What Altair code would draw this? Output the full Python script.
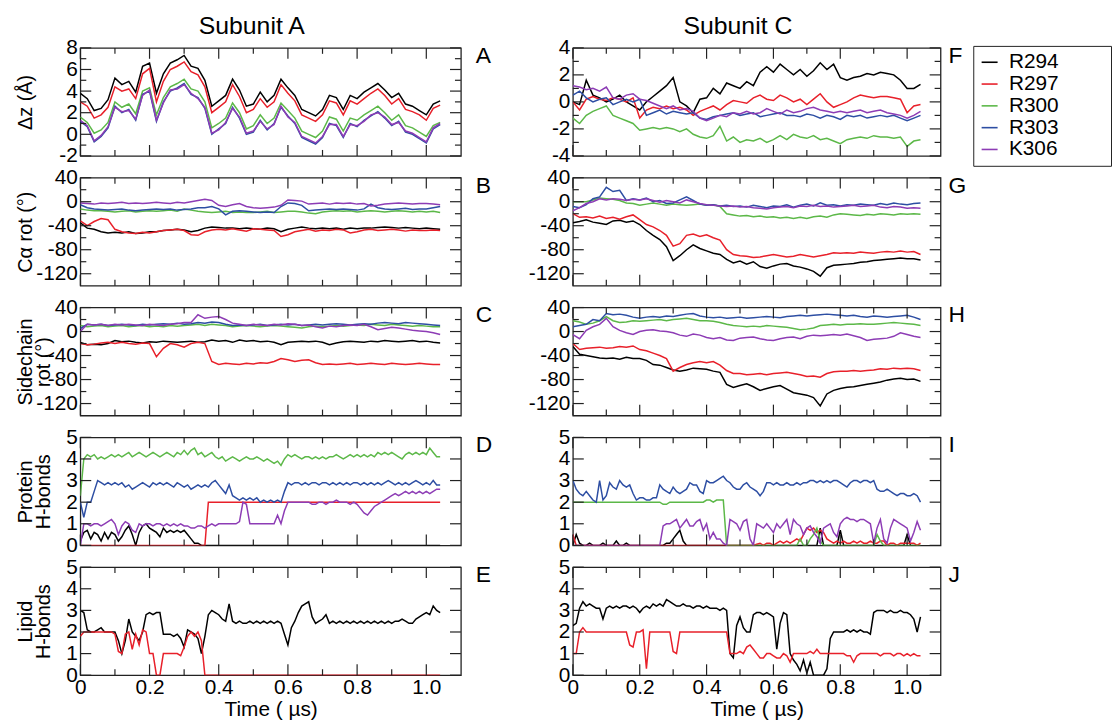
import altair as alt
import pandas as pd

FONT = "Liberation Sans"
FRAME = "#222222"
SERIES = ["R294", "R297", "R300", "R303", "K306"]
COLORS = ["#000000", "#e8202a", "#5cb848", "#2d4ea3", "#8d3cb5"]

# sampling grids (microseconds)
TIME_S = [0.0, 0.02, 0.04, 0.06, 0.08, 0.1, 0.12, 0.14, 0.16, 0.18,
          0.2, 0.22, 0.24, 0.26, 0.28, 0.3, 0.32, 0.34, 0.36, 0.38,
          0.4, 0.42, 0.44, 0.46, 0.48, 0.5, 0.52, 0.54, 0.56, 0.58,
          0.6, 0.62, 0.64, 0.66, 0.68, 0.7, 0.72, 0.74, 0.76, 0.78,
          0.8, 0.82, 0.84, 0.86, 0.88, 0.9, 0.92, 0.94, 0.96, 0.98,
          1.0, 1.02, 1.04]
TIME_H = [0.0, 0.01, 0.02, 0.03, 0.04, 0.05, 0.06, 0.07, 0.08, 0.09,
          0.1, 0.11, 0.12, 0.13, 0.14, 0.15, 0.16, 0.17, 0.18, 0.19,
          0.2, 0.21, 0.22, 0.23, 0.24, 0.25, 0.26, 0.27, 0.28, 0.29,
          0.3, 0.31, 0.32, 0.33, 0.34, 0.35, 0.36, 0.37, 0.38, 0.39,
          0.4, 0.41, 0.42, 0.43, 0.44, 0.45, 0.46, 0.47, 0.48, 0.49,
          0.5, 0.51, 0.52, 0.53, 0.54, 0.55, 0.56, 0.57, 0.58, 0.59,
          0.6, 0.61, 0.62, 0.63, 0.64, 0.65, 0.66, 0.67, 0.68, 0.69,
          0.7, 0.71, 0.72, 0.73, 0.74, 0.75, 0.76, 0.77, 0.78, 0.79,
          0.8, 0.81, 0.82, 0.83, 0.84, 0.85, 0.86, 0.87, 0.88, 0.89,
          0.9, 0.91, 0.92, 0.93, 0.94, 0.95, 0.96, 0.97, 0.98, 0.99,
          1.0, 1.01, 1.02, 1.03, 1.04]

# ---- Panel A: dz, subunit A
A_R294 = [3.8, 3.3, 2.2, 2.4, 3.2, 5.2, 4.6, 4.9, 3.9, 6.3, 6.6, 3.8, 5.6, 6.6, 6.9, 7.3, 6.3, 6.1, 5.0, 2.6, 3.1, 3.6, 5.1, 4.1, 2.6, 2.8, 3.9, 3.0, 3.6, 5.1, 4.3, 3.6, 2.3, 2.0, 1.7, 2.3, 3.6, 3.4, 2.3, 3.6, 3.3, 3.9, 4.3, 4.7, 4.1, 3.4, 3.8, 2.8, 2.6, 2.2, 1.8, 2.8, 3.1]
A_R297 = [3.0, 2.6, 1.5, 1.8, 2.5, 4.4, 4.0, 4.2, 3.3, 5.6, 6.1, 3.0, 4.9, 6.0, 6.3, 6.7, 5.8, 5.5, 4.4, 2.0, 2.5, 3.0, 4.6, 3.5, 2.0, 2.3, 3.3, 2.5, 3.0, 4.6, 3.8, 3.1, 1.8, 1.5, 1.2, 1.8, 3.1, 2.9, 1.8, 3.1, 2.8, 3.3, 3.8, 4.2, 3.6, 2.8, 3.3, 2.3, 2.1, 1.8, 1.3, 2.4, 2.7]
A_R300 = [1.6, 1.1, 0.1, 0.4, 1.1, 3.0, 2.5, 2.8, 1.9, 4.0, 4.3, 1.8, 3.4, 4.4, 4.7, 5.1, 4.2, 4.0, 3.0, 0.6, 1.0, 1.5, 2.9, 2.0, 0.5, 0.8, 1.8, 1.0, 1.5, 2.9, 2.2, 1.5, 0.3, 0.0, -0.3, 0.3, 1.6, 1.4, 0.3, 1.5, 1.3, 1.8, 2.2, 2.6, 2.0, 1.3, 1.8, 0.8, 0.6, 0.2, -0.2, 0.8, 1.1]
A_R303 = [1.2, 0.7, -0.7, -0.2, 0.6, 2.6, 2.0, 2.3, 1.3, 3.7, 4.0, 1.2, 3.0, 4.0, 4.3, 4.7, 3.7, 3.4, 2.4, 0.0, 0.5, 1.0, 2.5, 1.5, 0.0, 0.2, 1.3, 0.4, 1.0, 2.5, 1.7, 1.0, -0.3, -0.6, -0.9, -0.3, 1.0, 0.8, -0.3, 1.0, 0.7, 1.3, 1.7, 2.1, 1.5, 0.8, 1.2, 0.2, 0.0, -0.4, -0.8, 0.5, 0.9]
A_K306 = [1.3, 0.8, -0.6, -0.1, 0.7, 2.5, 2.1, 2.2, 1.4, 3.6, 4.1, 1.3, 2.9, 4.1, 4.2, 4.6, 3.8, 3.3, 2.5, 0.1, 0.4, 1.1, 2.4, 1.6, 0.1, 0.3, 1.2, 0.5, 0.9, 2.6, 1.6, 1.1, -0.2, -0.5, -0.8, -0.2, 0.9, 0.9, -0.2, 0.9, 0.8, 1.2, 1.8, 2.0, 1.6, 0.9, 1.1, 0.3, 0.1, -0.3, -0.7, 0.6, 1.0]

# ---- Panel F: dz, subunit C
F_R294 = [0.0, -0.2, 1.6, 0.5, 0.3, 0.0, 0.2, 0.5, 0.0, -0.3, -0.6, 0.0, 0.4, 0.8, 1.2, 1.8, 0.0, -0.3, -0.8, 0.2, 0.3, 1.0, 0.6, 1.4, 1.2, 1.0, 1.5, 1.2, 2.2, 2.6, 2.2, 2.8, 2.4, 2.0, 2.4, 1.9, 2.3, 2.9, 2.4, 2.8, 1.8, 1.6, 1.8, 1.9, 2.1, 2.0, 2.2, 2.1, 2.0, 1.6, 1.0, 1.0, 1.3]
F_R297 = [0.0, -0.6, 0.2, 0.4, 0.2, 0.1, 0.3, 0.2, 0.0, 0.3, -1.2, -0.6, -0.4, -0.5, -0.3, -0.5, -0.4, -0.6, -1.0, -0.7, -0.5, -0.3, -0.6, -0.2, 0.1, 0.0, -0.1, 0.3, 0.5, 0.2, 0.1, 0.5, 0.3, 0.0, 0.2, -0.2, 0.2, 0.6, 0.0, -0.4, -0.2, 0.0, 0.3, 0.5, 0.4, 0.3, 0.4, 0.4, 0.3, 0.2, -0.8, -0.3, -0.2]
F_R300 = [-1.2, -1.6, -1.0, -0.7, -0.5, -0.3, -1.0, -1.2, -1.4, -1.6, -2.1, -2.0, -1.9, -2.0, -1.9, -2.0, -2.2, -2.0, -2.4, -2.6, -2.7, -2.5, -1.8, -2.9, -2.6, -3.0, -2.8, -2.9, -2.7, -3.0, -2.8, -2.5, -2.8, -2.4, -2.6, -2.7, -2.5, -2.8, -2.7, -2.9, -3.1, -2.8, -2.7, -2.6, -2.7, -2.5, -2.6, -2.6, -2.7, -2.6, -3.3, -2.9, -2.8]
F_R303 = [0.5, 0.8, 0.3, 0.0, 0.2, 0.3, -0.2, 0.0, 0.2, 0.0, 0.2, -1.0, -0.8, -0.6, -0.9, -0.7, -0.8, -0.9, -0.8, -1.2, -1.3, -1.1, -1.0, -0.9, -0.8, -1.0, -0.9, -0.8, -1.1, -1.0, -0.9, -0.8, -1.0, -1.0, -1.1, -0.9, -1.0, -1.2, -1.0, -1.1, -1.3, -1.0, -1.1, -1.0, -1.2, -1.1, -1.0, -1.1, -1.0, -1.2, -1.4, -1.2, -1.0]
F_K306 = [1.2, 1.1, 0.9, 1.0, 0.8, 1.1, 0.3, 0.2, 0.5, 0.6, 0.2, 0.1, -0.1, -0.3, -0.5, -0.3, -0.6, -0.5, -0.7, -1.2, -1.4, -1.2, -1.0, -1.1, -0.8, -0.9, -0.7, -0.9, -0.8, -0.5, -0.7, -0.9, -0.6, -0.8, -0.7, -0.5, -0.4, -0.6, -0.7, -0.8, -0.7, -0.8, -0.7, -0.6, -0.8, -0.7, -0.6, -0.8, -0.9, -1.0, -1.2, -1.0, -0.7]

# ---- Panel B: C-alpha rotation, subunit A
B_R294 = [-35, -44, -46, -50, -52, -51, -52, -50, -53, -52, -50, -50, -48, -47, -46, -47, -50, -48, -44, -42, -43, -44, -44, -45, -44, -45, -46, -44, -45, -50, -46, -44, -42, -44, -45, -44, -45, -44, -46, -44, -45, -44, -44, -43, -42, -43, -44, -43, -44, -45, -44, -45, -46]
B_R297 = [-32, -40, -33, -28, -30, -46, -50, -52, -53, -51, -52, -50, -48, -47, -46, -48, -55, -56, -50, -47, -46, -47, -45, -47, -49, -45, -46, -47, -48, -58, -55, -50, -48, -46, -49, -47, -48, -46, -47, -52, -50, -47, -46, -48, -47, -46, -47, -49, -47, -48, -48, -47, -48]
B_R300 = [-12, -14, -15, -15, -16, -17, -16, -15, -17, -16, -15, -16, -15, -14, -16, -12, -14, -16, -17, -18, -17, -16, -18, -17, -18, -18, -17, -16, -18, -17, -16, -16, -17, -19, -20, -17, -16, -15, -16, -15, -17, -16, -15, -16, -17, -16, -15, -16, -17, -16, -17, -16, -18]
B_R303 = [-5, -10, -12, -13, -14, -13, -12, -14, -15, -14, -13, -12, -13, -12, -14, -13, -12, -10, -10, -8, -12, -22, -16, -15, -16, -17, -18, -17, -18, -8, -2, -3, -6, -15, -14, -13, -12, -13, -12, -13, -14, -12, -4, -10, -12, -13, -12, -11, -13, -12, -12, -10, -8]
B_K306 = [-2, -3, -4, -2, -3, -2, -1, -3, -2, -3, -2, -1, -2, -3, -1, -2, 0, 2, 4, 2, -6, -8, -5, -3, -8, -10, -11, -10, -9, -6, 3, 2, 1, -4, -3, -2, -4, -2, -3, -2, -4, -3, -7, -6, -4, -3, -2, -3, -4, -3, -3, -4, -5]

# ---- Panel G: C-alpha rotation, subunit C
G_R294 = [-35, -33, -30, -34, -36, -38, -32, -31, -34, -32, -38, -48, -56, -63, -75, -98, -90, -80, -72, -78, -82, -86, -88, -96, -102, -99, -104, -100, -108, -111, -107, -104, -103, -107, -109, -112, -116, -124, -110, -106, -105, -104, -103, -101, -100, -98, -97, -96, -95, -94, -95, -95, -97]
G_R297 = [-20, -26, -25, -27, -24, -28, -26, -29, -25, -22, -30, -38, -42, -48, -56, -74, -70, -56, -54, -58, -55, -60, -64, -80, -88, -90, -91, -93, -92, -90, -88, -90, -92, -91, -88, -90, -92, -90, -88, -85, -86, -85, -86, -84, -85, -86, -84, -83, -84, -82, -84, -83, -88]
G_R300 = [0, 0, 0, 3, 6, 5, 4, 2, -2, -3, -6, -4, -2, -4, -6, -4, -5, -6, -5, -4, -6, -5, -8, -20, -22, -24, -23, -25, -24, -26, -25, -27, -26, -28, -26, -28, -25, -24, -26, -22, -20, -21, -22, -23, -21, -22, -20, -21, -22, -20, -21, -20, -21]
G_R303 = [-8, -10, -5, 5, 8, 24, 17, 19, 2, 5, 3, 6, 0, 2, -3, -2, 3, 8, 2, -4, -6, -5, -7, -6, -8, -7, -9, -6, -8, -10, -7, -8, -5, -9, -6, -4, -7, -2, -6, -5, -7, -5, -6, -4, -5, -6, -3, -5, -2, -4, -5, -3, -2]
G_K306 = [-15, -10, -3, 0, 5, 3, 5, 4, 2, 4, 3, 5, 2, -1, 2, 0, -2, 3, 0, -3, -5, -6, -7, -8, -7, -9, -8, -10, -11, -12, -10, -9, -8, -10, -7, -8, -6, -8, -7, -9, -8, -7, -6, -8, -7, -6, -9, -10, -8, -9, -11, -10, -11]

# ---- Panel C: sidechain rotation, subunit A
C_R294 = [-18, -22, -21, -22, -20, -15, -17, -16, -18, -19, -17, -18, -16, -17, -18, -17, -16, -18, -17, -14, -16, -15, -18, -14, -16, -15, -17, -16, -18, -22, -18, -17, -16, -17, -16, -18, -22, -19, -17, -16, -17, -18, -16, -17, -15, -16, -17, -16, -15, -17, -16, -18, -19]
C_R297 = [-20, -22, -21, -19, -18, -20, -18, -20, -21, -19, -20, -42, -28, -20, -22, -26, -20, -18, -20, -50, -55, -53, -54, -55, -53, -54, -52, -53, -50, -45, -47, -50, -48, -47, -52, -55, -54, -55, -54, -53, -55, -54, -53, -54, -55, -53, -54, -55, -54, -53, -54, -55, -55]
C_R300 = [10, 8, 9, 10, 8, 9, 10, 8, 9, 10, 8, 9, 8, 10, 9, 10, 11, 12, 10, 12, 11, 10, 8, 9, 10, 9, 8, 9, 10, 9, 8, 7, 6, 8, 9, 8, 9, 10, 9, 10, 11, 10, 12, 11, 10, 12, 11, 10, 9, 10, 9, 8, 8]
C_R303 = [5, 12, 11, 12, 10, 11, 12, 11, 10, 12, 11, 12, 13, 12, 14, 12, 13, 15, 14, 16, 15, 12, 10, 11, 10, 11, 12, 10, 11, 12, 11, 12, 10, 11, 12, 11, 12, 13, 12, 11, 12, 13, 12, 14, 15, 14, 13, 15, 14, 13, 12, 11, 10]
C_K306 = [0, 12, 11, 12, 10, 12, 11, 12, 11, 10, 12, 11, 10, 12, 13, 15, 15, 28, 22, 24, 25, 20, 14, 12, 10, 12, 11, 10, 12, 11, 13, 12, 10, 11, 8, 6, 9, 8, 10, 11, 10, 12, 8, 3, 5, 7, 6, 4, 2, 1, 0, -2, -5]

# ---- Panel H: sidechain rotation, subunit C
H_R294 = [-25, -38, -40, -42, -44, -45, -44, -46, -43, -45, -45, -48, -55, -56, -60, -64, -66, -64, -61, -62, -63, -66, -68, -88, -93, -90, -87, -92, -98, -95, -92, -90, -96, -102, -104, -106, -110, -124, -104, -98, -95, -93, -92, -90, -88, -86, -84, -81, -79, -78, -80, -79, -83]
H_R297 = [-20, -30, -28, -27, -26, -28, -27, -25, -26, -24, -30, -32, -36, -40, -45, -66, -60, -55, -52, -50, -52, -50, -56, -65, -70, -70, -72, -71, -70, -72, -70, -69, -68, -70, -72, -75, -74, -76, -70, -67, -66, -66, -65, -66, -65, -64, -62, -63, -61, -62, -61, -62, -65]
H_R300 = [18, 16, 12, 14, 18, 25, 18, 15, 16, 18, 17, 18, 19, 20, 18, 20, 21, 22, 20, 18, 18, 17, 15, 12, 10, 9, 8, 9, 8, 10, 9, 8, 7, 5, 3, 4, 6, 10, 11, 12, 11, 12, 12, 13, 12, 12, 13, 14, 15, 14, 13, 12, 10]
H_R303 = [8, 10, 12, 20, 18, 30, 28, 29, 27, 24, 22, 24, 25, 24, 26, 25, 27, 29, 30, 26, 24, 23, 24, 22, 23, 24, 22, 23, 24, 25, 24, 23, 25, 26, 27, 26, 27, 28, 29, 28, 27, 26, 27, 25, 24, 26, 25, 24, 25, 26, 27, 24, 20]
H_K306 = [-5, -12, 2, 8, 12, 22, 8, 2, -2, -5, 0, 2, 3, 1, 0, -2, -6, -8, -4, -6, -10, -12, -10, -14, -15, -11, -10, -9, -12, -14, -15, -12, -10, -9, -12, -8, -6, -7, -6, -5, -6, -4, -7, -10, -15, -13, -12, -11, -8, -2, -5, -8, -10]

# ---- Panel D: protein H-bonds, subunit A
D_R294 = [0.2, 0.6, 0.7, 0.3, 0.6, 0.5, 0.2, 0.6, 0.3, 0.6,
          0.5, 0.2, 0.4, 0.7, 0.9, 0.5, 0.0, 0.6, 0.9, 1.0,
          0.8, 0.7, 0.6, 0.4, 0.8, 0.6, 0.7, 0.6, 0.7, 0.6,
          0.7, 0.5, 0.3, 0.1, 0.1, 0.0, 0.0, 0.0, 0.0, 0.0,
          0, 0, 0, 0, 0, 0, 0, 0, 0, 0,
          0, 0, 0, 0, 0, 0, 0, 0, 0, 0,
          0, 0, 0, 0, 0, 0, 0, 0, 0, 0,
          0, 0, 0, 0, 0, 0, 0, 0, 0, 0,
          0, 0, 0, 0, 0, 0, 0, 0, 0, 0,
          0, 0, 0, 0, 0, 0, 0, 0, 0, 0,
          0, 0, 0, 0, 0]
D_R297 = [0, 0, 0, 0, 0, 0, 0, 0, 0, 0,
          0, 0, 0, 0, 0, 0, 0, 0, 0, 0,
          0, 0, 0, 0, 0, 0, 0, 0, 0, 0,
          0, 0, 0, 0, 0, 0, 0, 2.0, 2.0, 2.0,
          2.0, 2.0, 2.0, 2.0, 2.0, 2.0, 2.0, 2.0, 2.0, 2.0,
          2.0, 2.0, 2.0, 2.0, 2.0, 2.0, 2.0, 2.0, 2.0, 2.0,
          2.0, 2.0, 2.0, 2.0, 2.0, 2.0, 2.0, 2.0, 2.0, 2.0,
          2.0, 2.0, 2.0, 2.0, 2.0, 2.0, 2.0, 2.0, 2.0, 2.0,
          2.0, 2.0, 2.0, 2.0, 2.0, 2.0, 2.0, 2.0, 2.0, 2.0,
          2.0, 2.0, 2.0, 2.0, 2.0, 2.0, 2.0, 2.0, 2.0, 2.0,
          2.0, 2.0, 2.0, 2.0, 2.0]
D_R300 = [2.3, 4.0, 4.2, 4.1, 4.2, 4.0, 4.1, 4.0, 4.1, 4.2,
          4.1, 4.2, 4.1, 4.2, 4.3, 4.1, 4.2, 4.3, 4.2, 4.1,
          4.2, 4.3, 4.2, 4.1, 4.2, 4.3, 4.2, 4.1, 4.3, 4.2,
          4.4, 4.2, 4.4, 4.5, 4.2, 4.3, 4.1, 4.2, 4.3, 4.1,
          4.0, 4.1, 3.9, 4.0, 4.1, 4.0, 3.9, 4.0, 4.1, 4.0,
          4.0, 4.1, 4.0, 3.9, 4.0, 3.9, 3.8, 3.9, 3.7, 4.0,
          4.2, 4.1, 4.2, 4.1, 4.0, 4.1, 4.1, 4.0, 4.1, 4.0,
          4.1, 4.0, 4.1, 4.1, 4.2, 4.1, 4.0, 4.1, 4.2, 4.1,
          4.2, 4.1, 4.2, 4.1, 4.2, 4.1, 4.3, 4.2, 4.3, 4.2,
          4.3, 4.2, 4.1, 4.0, 4.2, 4.3, 4.2, 4.3, 4.2, 4.3,
          4.2, 4.5, 4.3, 4.1, 4.1]
D_R303 = [2.0, 1.3, 2.0, 2.0, 2.5, 3.0, 2.9, 2.8, 2.9, 2.8,
          2.9, 2.8, 2.9, 2.7, 2.8, 2.6, 2.7, 2.8, 2.9, 2.8,
          2.7, 2.9, 2.8, 2.9, 2.8, 2.9, 2.8, 2.7, 2.9, 2.8,
          2.7, 2.8, 2.6, 2.7, 2.8, 2.7, 2.8, 2.7, 2.9, 3.0,
          2.8, 2.6, 2.4, 2.8, 2.3, 2.2, 2.1, 2.2, 2.1, 2.2,
          2.1, 2.2, 2.0, 2.1, 2.0, 2.1, 2.0, 2.1, 2.0, 2.5,
          2.9, 2.8, 2.9, 2.9, 2.8, 2.9, 2.8, 2.9, 2.9, 2.8,
          2.9, 2.9, 2.8, 2.9, 2.8, 2.9, 2.8, 2.9, 2.8, 2.9,
          2.9, 2.8, 2.9, 2.8, 2.9, 2.8, 2.9, 2.8, 2.9, 3.0,
          2.9, 2.8, 2.9, 2.8, 2.9, 2.8, 2.9, 3.0, 2.9, 2.8,
          2.9, 2.8, 3.0, 2.8, 2.8]
D_K306 = [0.0, 1.0, 1.0, 0.9, 1.0, 1.0, 0.9, 1.0, 1.1, 1.2,
          1.0, 0.5, 0.9, 1.1, 1.0, 0.7, 0.6, 1.0, 0.9, 1.0,
          1.0, 0.9, 1.0, 1.0, 0.9, 1.0, 0.9, 1.0, 0.9, 1.0,
          0.9, 0.9, 0.8, 0.8, 0.9, 0.9, 0.8, 0.9, 1.0, 0.9,
          1.0, 1.0, 1.0, 1.0, 1.0, 1.0, 1.1, 2.0, 1.9, 1.0,
          1.0, 1.0, 1.0, 1.0, 1.0, 1.0, 1.0, 1.4, 1.0, 1.6,
          2.0, 2.0, 2.0, 2.0, 2.0, 2.0, 2.0, 1.9, 1.9, 2.0,
          2.0, 1.9, 2.0, 2.0, 2.1, 2.0, 2.0, 2.0, 1.9, 2.0,
          1.9, 1.7, 1.5, 1.4, 1.6, 1.8, 1.9, 2.0, 2.1, 2.2,
          2.3, 2.4, 2.3, 2.4, 2.5, 2.4, 2.5, 2.4, 2.5, 2.4,
          2.5, 2.4, 2.5, 2.6, 2.6]

# ---- Panel I: protein H-bonds, subunit C
I_R294 = [0.0, 0.5, 0.1, 0.0, 0.0, 0.1, 0.0, 0.0, 0.0, 0.1,
          0.0, 0.0, 0.0, 0.2, 0.0, 0.0, 0.1, 0.0, 0.0, 0.0,
          0.0, 0.0, 0.0, 0.0, 0.0, 0.0, 0.0, 0.0, 0.1, 0.1,
          0.3, 0.5, 0.7, 0.2, 0.0, 0.0, 0.0, 0.0, 0.0, 0.0,
          0, 0, 0, 0, 0, 0, 0, 0, 0, 0,
          0, 0, 0, 0, 0, 0, 0, 0, 0, 0,
          0, 0, 0, 0, 0, 0, 0, 0, 0, 0,
          0.0, 0.0, 0.0, 0.0, 0.8, 0.0, 0.0, 0.0, 0.0, 0.0,
          0.7, 0.0, 0.0, 0.0, 0.0, 0.0, 0.0, 0.0, 0.0, 0.0,
          0, 0, 0, 0, 0, 0, 0, 0, 0, 0,
          0.5, 0.0, 0.0, 0.0, 0.0]
I_R297 = [0.5, 0.0, 0.0, 0.0, 0.0, 0.0, 0.0, 0.0, 0.0, 0.0,
          0, 0, 0, 0, 0, 0, 0, 0, 0, 0,
          0, 0, 0, 0, 0, 0, 0, 0, 0, 0,
          0, 0, 0, 0, 0, 0, 0, 0, 0, 0,
          0, 0, 0, 0, 0, 0, 0, 0, 0, 0,
          0.0, 0.0, 0.0, 0.0, 0.0, 0.05, 0.1, 0.0, 0.1, 0.1,
          0.0, 0.1, 0.2, 0.1, 0.2, 0.1, 0.2, 0.3, 0.2, 0.5,
          0.8, 0.7, 0.8, 0.6, 0.7, 0.6, 0.3, 0.2, 0.1, 0.2,
          0.1, 0.2, 0.1, 0.1, 0.2, 0.1, 0.2, 0.1, 0.1, 0.2,
          0.1, 0.1, 0.2, 0.2, 0.0, 0.1, 0.1, 0.0, 0.1, 0.1,
          0.1, 0.1, 0.1, 0.0, 0.1]
I_R300 = [2.0, 2.0, 2.0, 2.0, 2.0, 2.0, 2.0, 2.0, 2.0, 2.0,
          2.0, 2.0, 2.0, 2.0, 2.0, 2.0, 2.0, 2.0, 2.0, 2.0,
          2.0, 2.0, 2.0, 2.0, 2.0, 2.0, 2.0, 1.9, 1.9, 2.0,
          2.0, 2.0, 2.0, 2.0, 2.0, 2.0, 2.0, 2.0, 2.0, 2.0,
          2.1, 2.1, 2.0, 2.1, 2.1, 2.1, 0.0, 0.0, 0.0, 0.0,
          0, 0, 0, 0, 0, 0, 0, 0, 0, 0,
          0.0, 0.0, 0.0, 0.0, 0.0, 0.0, 0.0, 0.0, 0.3, 0.0,
          0.0, 0.3, 0.5, 0.8, 0.2, 0.0, 0.0, 0.0, 0.0, 0.0,
          0, 0, 0, 0, 0, 0, 0, 0, 0, 0,
          0.0, 0.5, 0.2, 0.0, 0.0, 0.0, 0.0, 0.0, 0.0, 0.0,
          0, 0, 0, 0, 0]
I_R303 = [3.0, 2.6, 2.4, 2.3, 2.5, 2.3, 2.1, 2.0, 3.0, 2.1,
          2.3, 2.9, 2.7, 2.6, 3.0, 2.8, 2.7, 2.8, 2.4, 2.1,
          2.2, 2.2, 2.1, 2.1, 2.2, 2.2, 2.8, 2.6, 2.5, 2.4,
          2.7, 2.5, 2.4, 2.5, 2.6, 2.9, 2.8, 2.8, 2.5, 2.4,
          3.0, 2.9, 2.9, 3.0, 3.1, 3.2, 3.0, 2.9, 2.7, 2.6,
          2.6, 2.8, 2.9, 2.7, 2.6, 2.5, 2.3, 2.5, 2.9, 2.9,
          2.8, 2.9, 2.8, 2.8, 2.9, 2.8, 2.8, 2.9, 2.8, 2.9,
          2.9, 3.0, 3.0, 2.9, 3.0, 2.9, 3.0, 2.9, 3.0, 3.0,
          2.9, 2.8, 2.7, 2.9, 3.0, 3.0, 2.9, 3.0, 3.0, 2.9,
          3.0, 2.6, 2.5, 2.5, 2.6, 2.5, 2.4, 2.3, 2.4, 2.4,
          2.3, 2.3, 2.4, 2.3, 2.0]
I_K306 = [0, 0, 0, 0, 0, 0, 0, 0, 0, 0,
          0, 0, 0, 0, 0, 0, 0, 0, 0, 0,
          0, 0, 0, 0, 0, 0, 0, 0.9, 1.0, 1.0,
          1.1, 1.2, 0.8, 1.0, 1.2, 0.9, 0.9, 1.1, 1.2, 0.7,
          1.0, 0.3, 0.6, 0.3, 0.3, 0.1, 0.0, 1.2, 1.1, 1.0,
          0.7, 1.1, 1.2, 0.3, 0.0, 1.0, 0.9, 0.8, 1.0, 0.8,
          0.6, 1.0, 0.8, 1.0, 1.2, 0.5, 1.2, 1.0, 0.9, 0.5,
          0.8, 0.9, 0.6, 0.4, 0.1, 0.8, 0.9, 1.0, 0.6, 0.4,
          1.0, 1.2, 1.3, 1.2, 1.2, 1.1, 1.2, 1.2, 1.1, 1.0,
          0.1, 0.8, 1.2, 0.3, 0.1, 0.8, 1.2, 1.1, 1.0, 0.9,
          0.8, 0.2, 0.6, 1.1, 0.7]

# ---- Panel E: lipid H-bonds, subunit A
E_R294 = [3.0, 2.9, 2.1, 2.0, 2.0, 2.1, 2.2, 2.0, 2.0, 2.0,
          2.0, 1.6, 1.0, 1.6, 2.6, 2.0, 1.8, 1.6, 2.0, 2.8,
          2.9, 2.8, 2.9, 2.9, 1.9, 1.9, 1.9, 1.8, 1.9, 1.7,
          1.3, 2.1, 2.0, 1.9, 1.7, 1.0, 1.8, 2.8, 3.0, 2.9,
          2.8, 2.6, 2.5, 3.3, 2.5, 2.4, 2.5, 2.4, 2.4, 2.5,
          2.4, 2.5, 2.4, 2.5, 2.4, 2.5, 2.4, 2.5, 2.4, 1.9,
          1.4, 2.2, 2.5, 2.9, 3.2, 3.3, 3.4, 2.7, 2.4, 2.5,
          2.6, 2.8, 2.4, 2.5, 2.4, 2.5, 2.4, 2.5, 2.4, 2.5,
          2.4, 2.5, 2.4, 2.5, 2.4, 2.5, 2.4, 2.5, 2.4, 2.5,
          2.4, 2.5, 2.5, 2.6, 2.5, 2.4, 2.4, 2.6, 2.7, 2.8,
          2.9, 2.8, 3.2, 3.0, 2.9]
E_R297 = [1.8, 2.0, 2.0, 2.0, 2.0, 2.0, 2.0, 2.0, 2.0, 2.0,
          1.9, 1.1, 1.0, 1.9, 2.0, 1.2, 1.9, 1.4, 2.1, 2.0,
          1.0, 1.0, 0.0, 0.0, 1.0, 1.0, 1.0, 1.0, 1.0, 0.9,
          1.3, 1.8, 2.0, 1.8, 2.0, 1.6, 0.0, 0.0, 0.0, 0.0,
          0, 0, 0, 0, 0, 0, 0, 0, 0, 0,
          0, 0, 0, 0, 0, 0, 0, 0, 0, 0,
          0, 0, 0, 0, 0, 0, 0, 0, 0, 0,
          0, 0, 0, 0, 0, 0, 0, 0, 0, 0,
          0, 0, 0, 0, 0, 0, 0, 0, 0, 0,
          0, 0, 0, 0, 0, 0, 0, 0, 0, 0,
          0, 0, 0, 0, 0]

# ---- Panel J: lipid H-bonds, subunit C
J_R294 = [2.3, 2.4, 3.1, 3.4, 3.2, 3.3, 3.2, 3.1, 3.1, 2.6,
          3.1, 3.2, 3.1, 3.2, 3.1, 3.2, 3.2, 3.1, 3.2, 3.1,
          2.9, 3.1, 3.2, 3.1, 3.3, 3.2, 3.3, 3.2, 3.5, 3.4,
          3.3, 3.2, 3.2, 3.3, 3.2, 3.2, 3.1, 3.2, 3.2, 3.1,
          3.2, 3.1, 3.1, 3.1, 3.0, 3.1, 3.0, 1.0, 0.8, 2.3,
          2.7, 2.2, 2.0, 2.0, 2.8, 2.9, 2.9, 2.8, 2.9, 2.8,
          2.7, 1.2, 2.4, 2.9, 2.8, 1.0, 0.7, 0.5, 0.2, 0.7,
          0.1, 0.6, 0.0, 0.0, 0.0, 0.0, 0.3, 1.7, 2.0, 2.0,
          2.0, 2.0, 2.1, 2.0, 2.1, 2.0, 2.1, 2.0, 2.0, 1.9,
          2.9, 3.0, 3.0, 3.0, 2.9, 3.0, 2.9, 2.9, 3.0, 2.9,
          2.9, 2.8, 2.6, 2.0, 2.7]
J_R297 = [1.0, 1.0, 2.0, 2.2, 2.0, 2.0, 2.0, 2.0, 2.0, 2.0,
          2.0, 2.0, 2.0, 2.0, 2.0, 2.0, 2.0, 1.4, 1.3, 2.0,
          2.0, 2.1, 0.3, 2.0, 2.0, 2.0, 2.0, 2.0, 2.0, 2.0,
          1.1, 1.0, 2.0, 2.0, 2.0, 2.0, 2.0, 2.0, 2.0, 2.0,
          2.0, 2.0, 2.0, 2.0, 2.0, 2.0, 2.0, 1.0, 1.0, 1.0,
          1.1, 1.0, 1.3, 1.4, 1.2, 1.0, 0.8, 0.8, 1.0, 1.0,
          0.9, 0.8, 0.8, 1.0, 0.9, 0.6, 1.0, 1.0, 1.0, 1.0,
          1.0, 1.1, 1.0, 1.2, 1.0, 1.0, 1.0, 1.0, 1.0, 1.0,
          1.0, 1.0, 0.9, 0.9, 0.6, 0.9, 1.0, 1.0, 1.0, 1.0,
          1.0, 1.0, 0.9, 1.0, 1.0, 1.0, 0.9, 1.0, 1.0, 0.9,
          1.0, 0.9, 1.0, 0.9, 0.9]

# ---- axis tick positions
X_MAJOR = [0, 0.2, 0.4, 0.6, 0.8, 1.0]
X_MINOR = [0.1, 0.3, 0.5, 0.7, 0.9]
DZA_MAJOR = [-2, 0, 2, 4, 6, 8]
DZA_MINOR = [-1, 1, 3, 5, 7]
DZC_MAJOR = [-4, -2, 0, 2, 4]
DZC_MINOR = [-3, -1, 1, 3]
ROT_MAJOR = [-120, -80, -40, 0, 40]
ROT_MINOR = [-100, -60, -20, 20]
HB_MAJOR = [0, 1, 2, 3, 4, 5]

W_L, W_R, H = 384, 371, 109
TMAJ, TMIN = 11, 6

# trailing no-break spaces widen the legend box; the final zero-width char keeps them from being trimmed
PAD_LABEL = "\u00a0" * 8 + "\u200b"
LEGEND = alt.Legend(
    title=None, orient="none", legendX=901, legendY=-2,
    symbolType="stroke", symbolSize=260, symbolStrokeWidth=1.6,
    labelFont=FONT, labelFontSize=21, labelColor="black",
    labelOffset=9, rowPadding=0, padding=6,
    strokeColor=FRAME, fillColor="white",
    labelExpr="datum.label + '" + PAD_LABEL + "'",
)


def panel(letter, times, values, ydom, ymaj, ymin, ytitle, width, bottom,
          letter_dx, top_title=None):
    rows = []
    for name in SERIES:
        if name in values:
            for t, v in zip(times, values[name]):
                rows.append({"t": t, "v": v, "series": name})
    df = pd.DataFrame(rows)

    xs = alt.Scale(domain=[0, 1.1], nice=False, zero=False)
    ys = alt.Scale(domain=ydom, nice=False, zero=False)
    if bottom:
        xax = alt.Axis(values=X_MAJOR, ticks=False, domain=False, grid=False,
                       labelExpr="datum.value == 0 ? '0' : format(datum.value, '.1f')",
                       labelFlush=False, labelOverlap=False, labelFont=FONT,
                       labelFontSize=21, labelColor="black", labelPadding=1,
                       title="Time ( µs)", titleFont=FONT, titleFontSize=21,
                       titleFontWeight="normal", titleColor="black", titlePadding=2)
    else:
        xax = None
    ykw = dict(values=ymaj, ticks=False, domain=False, grid=False,
               labelExpr="'' + datum.value", labelFlush=False, labelOverlap=False,
               labelFont=FONT, labelFontSize=21, labelColor="black", labelPadding=3)
    if ytitle:
        yax = alt.Axis(title=ytitle, titleFont=FONT, titleFontSize=20,
                       titleFontWeight="normal", titleColor="black",
                       titleX=-55, titleBaseline="middle", titleLineHeight=18, **ykw)
    else:
        yax = alt.Axis(title=None, **ykw)

    X = lambda: alt.X("t:Q", scale=xs, axis=xax)
    Y = lambda: alt.Y("v:Q", scale=ys, axis=yax)

    lines = alt.Chart(df).mark_line(strokeWidth=1.5, clip=True).encode(
        x=X(), y=Y(),
        color=alt.Color("series:N", scale=alt.Scale(domain=SERIES, range=COLORS), legend=LEGEND),
    )
    layers = [lines]
    for vals, ln in ((X_MAJOR, TMAJ), (X_MINOR, TMIN)):
        d = pd.DataFrame({"t": vals})
        layers.append(alt.Chart(d).mark_rule(color=FRAME, strokeWidth=1.2).encode(
            x=X(), y=alt.value(0), y2=alt.value(ln)))
        layers.append(alt.Chart(d).mark_rule(color=FRAME, strokeWidth=1.2).encode(
            x=X(), y=alt.value(H), y2=alt.value(H - ln)))
    for vals, ln in ((ymaj, TMAJ), (ymin, TMIN)):
        if not vals:
            continue
        d = pd.DataFrame({"v": vals})
        layers.append(alt.Chart(d).mark_rule(color=FRAME, strokeWidth=1.2).encode(
            y=Y(), x=alt.value(0), x2=alt.value(ln)))
        layers.append(alt.Chart(d).mark_rule(color=FRAME, strokeWidth=1.2).encode(
            y=Y(), x=alt.value(width), x2=alt.value(width - ln)))
    lab = pd.DataFrame({"lab": [letter]})
    layers.append(alt.Chart(lab).mark_text(align="left", baseline="top", font=FONT,
                                           fontSize=23, color="black").encode(
        x=alt.value(width + letter_dx), y=alt.value(-3), text="lab:N"))

    props = dict(width=width, height=H)
    if top_title:
        props["title"] = alt.TitleParams(top_title, font=FONT, fontSize=25,
                                         fontWeight="normal", color="black",
                                         anchor="middle", frame="group", offset=-2, dx=-19)
    return alt.layer(*layers).properties(**props)


S, HB = TIME_S, TIME_H
pA = panel("A", S, {"R294": A_R294, "R297": A_R297, "R300": A_R300, "R303": A_R303, "K306": A_K306},
           [-2, 8], DZA_MAJOR, DZA_MINOR, "Δz (Å)", W_L, False, 15, "Subunit A")
pF = panel("F", S, {"R294": F_R294, "R297": F_R297, "R300": F_R300, "R303": F_R303, "K306": F_K306},
           [-4, 4], DZC_MAJOR, DZC_MINOR, None, W_R, False, 8, "Subunit C")
pB = panel("B", S, {"R294": B_R294, "R297": B_R297, "R300": B_R300, "R303": B_R303, "K306": B_K306},
           [-140, 40], ROT_MAJOR, ROT_MINOR, "Cα rot (°)", W_L, False, 15)
pG = panel("G", S, {"R294": G_R294, "R297": G_R297, "R300": G_R300, "R303": G_R303, "K306": G_K306},
           [-140, 40], ROT_MAJOR, ROT_MINOR, None, W_R, False, 8)
pC = panel("C", S, {"R294": C_R294, "R297": C_R297, "R300": C_R300, "R303": C_R303, "K306": C_K306},
           [-140, 40], ROT_MAJOR, ROT_MINOR, ["Sidechain", "rot (°)"], W_L, False, 15)
pH = panel("H", S, {"R294": H_R294, "R297": H_R297, "R300": H_R300, "R303": H_R303, "K306": H_K306},
           [-140, 40], ROT_MAJOR, ROT_MINOR, None, W_R, False, 8)
pD = panel("D", HB, {"R294": D_R294, "R297": D_R297, "R300": D_R300, "R303": D_R303, "K306": D_K306},
           [0, 5], HB_MAJOR, [], ["Protein", "H-bonds"], W_L, False, 15)
pI = panel("I", HB, {"R294": I_R294, "R297": I_R297, "R300": I_R300, "R303": I_R303, "K306": I_K306},
           [0, 5], HB_MAJOR, [], None, W_R, False, 8)
pE = panel("E", HB, {"R294": E_R294, "R297": E_R297},
           [0, 5], HB_MAJOR, [], ["Lipid", "H-bonds"], W_L, True, 15)
pJ = panel("J", HB, {"R294": J_R294, "R297": J_R297},
           [0, 5], HB_MAJOR, [], None, W_R, True, 8)

chart = alt.concat(
    pA, pF, pB, pG, pC, pH, pD, pI, pE, pJ,
    columns=2, spacing={"row": 22, "column": 113}, bounds="flush",
).resolve_scale(color="shared").properties(
    padding={"left": 7, "top": 2, "right": 0, "bottom": 0}
).configure_view(stroke=FRAME, strokeWidth=1.3)

chart.save("out.html", embed_options={"renderer": "svg", "actions": False})
